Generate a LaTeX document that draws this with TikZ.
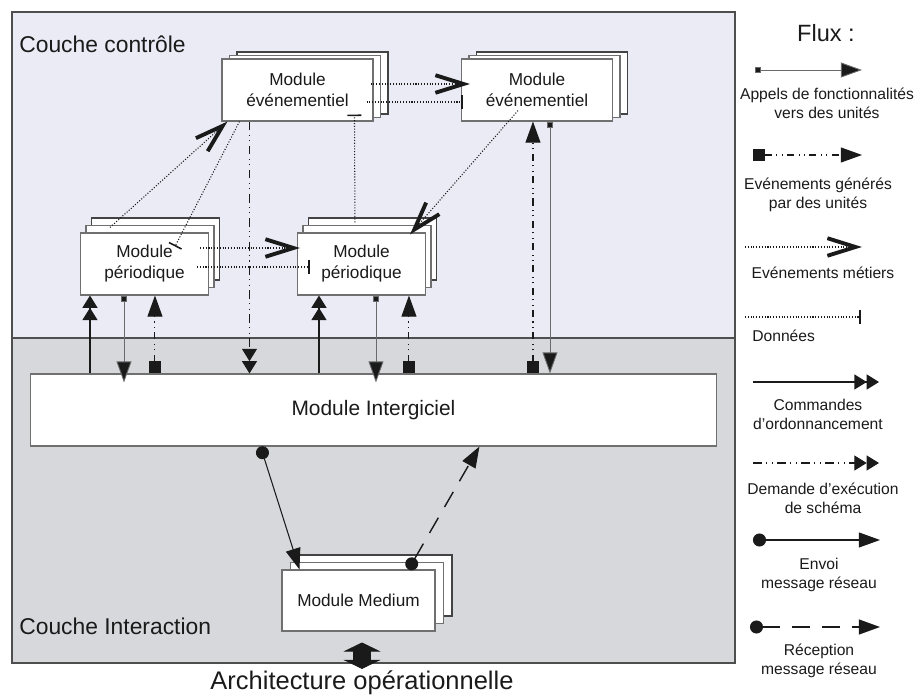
\documentclass[tikz,border=0pt]{standalone}
\usepackage{fontspec}
\setmainfont{Liberation Sans}
\usetikzlibrary{arrows.meta,shadows}
\usepackage{xcolor}
\definecolor{ctrlbg}{HTML}{EAEBF5}
\definecolor{interbg}{HTML}{D7D8DC}
\definecolor{boxgray}{HTML}{707070}
\definecolor{ink}{HTML}{1A1A1A}
\tikzset{
  layer/.style={draw=boxgray!70!black, line width=0.7pt},
  module/.style={draw=boxgray, fill=white, line width=0.6pt, align=center, inner sep=0pt, text=ink, font=\fontsize{9.8}{11.9}\selectfont},
  evtstack/.style={module, minimum width=3.02cm, minimum height=1.24cm,
    copy shadow={shadow xshift=0.3cm, shadow yshift=0.14cm, draw=boxgray!60!black, fill=white},
    copy shadow={shadow xshift=0.15cm, shadow yshift=0.07cm, draw=boxgray, fill=white}},
  perstack/.style={module, minimum width=2.56cm, minimum height=1.24cm,
    copy shadow={shadow xshift=0.22cm, shadow yshift=0.3cm, draw=boxgray!60!black, fill=white},
    copy shadow={shadow xshift=0.11cm, shadow yshift=0.15cm, draw=boxgray, fill=white}},
  medstack/.style={module, minimum width=3.06cm, minimum height=1.22cm,
    copy shadow={shadow xshift=0.34cm, shadow yshift=0.3cm, draw=boxgray!60!black, fill=white},
    copy shadow={shadow xshift=0.17cm, shadow yshift=0.15cm, draw=boxgray, fill=white}},
  legend/.style={align=center, text=ink, inner sep=0pt, font=\fontsize{8.9}{10.8}\selectfont},
  appel/.style={draw=ink!65, line width=0.5pt, {Square[length=3.4pt,width=3.4pt,fill=ink]}-{Triangle[length=12pt,width=8.5pt,fill=ink]}},
  genere/.style={draw=ink, line width=0.6pt, dash pattern=on 4pt off 2.5pt on 0.6pt off 2.5pt on 0.6pt off 2.5pt, {Square[length=7pt,width=7pt]}-{Triangle[length=12pt,width=8.5pt]}},
  metier/.style={draw=ink, line width=0.6pt, densely dotted, -{Straight Barb[length=16pt,width=10pt,line width=2.2pt]}},
  donnee/.style={draw=ink, line width=0.6pt, densely dotted, -{Bar[width=8pt,line width=0.9pt]}},
  commande/.style={draw=ink, line width=0.8pt, -{Triangle[length=7pt,width=8.5pt]Triangle[length=7pt,width=8.5pt]}},
  demande/.style={draw=ink, line width=0.6pt, dash pattern=on 5pt off 2.5pt on 0.6pt off 2.5pt on 0.6pt off 2.5pt, -{Triangle[length=7pt,width=8.5pt]Triangle[length=7pt,width=8.5pt]}},
  envoi/.style={draw=ink, line width=0.6pt, {Circle[length=7.4pt]}-{Triangle[length=12pt,width=8.5pt]}},
  reception/.style={draw=ink, line width=0.8pt, dash pattern=on 10pt off 7pt, {Circle[length=7.4pt]}-{Triangle[length=12pt,width=8.5pt]}},
  bigarrow/.style={draw=ink, line width=0.36cm, {Triangle[length=0.18cm,width=0.74cm,line width=0.3pt]}-{Triangle[length=0.18cm,width=0.74cm,line width=0.3pt]}}
}

\begin{document}
\begin{tikzpicture}[x=0.02cm, y=-0.02cm]
  \useasboundingbox (0,0) rectangle (914,695);
  % layers
  \fill[ctrlbg] (12,12) rectangle (735,338);
  \fill[interbg] (12,338) rectangle (735,663);
  \draw[layer] (12,12) rectangle (735,663);
  \draw[layer] (12,338) -- (735,338);
  \node[anchor=west, inner sep=0pt, text=ink, font=\fontsize{13}{15}\selectfont] (ctrl) at (19,44) {Couche contrôle};
  \node[anchor=west, inner sep=0pt, text=ink, font=\fontsize{13}{15}\selectfont] (inter) at (19,626) {Couche Interaction};

  % modules
  \node[evtstack] (evt1) at (297.5,90) {Module\\événementiel};
  \node[evtstack] (evt2) at (537,90) {Module\\événementiel};
  \node[perstack] (per1) at (144.5,264) {Module\\périodique};
  \node[perstack] (per2) at (361.5,264) {Module\\périodique};
  \node[module, minimum width=13.74cm, minimum height=1.44cm, font=\fontsize{11.9}{14}\selectfont] (mid) at (373.5,410) {Module Intergiciel};
  \node[medstack] (med) at (358.5,600.5) {Module Medium};
  \node[inner sep=0pt, anchor=base, text=ink, font=\fontsize{14.5}{17}\selectfont] (arch) at (362,690) {Architecture opérationnelle};

  % control layer flows
  \draw[metier] ([xshift=-0.06cm,yshift=0.12cm]evt1.east) -- ([xshift=0.18cm,yshift=0.12cm]evt2.west);
  \draw[donnee] ([xshift=-0.14cm,yshift=-0.24cm]evt1.east) -- ([xshift=0.04cm,yshift=-0.24cm]evt2.west);
  \draw[donnee] ([xshift=1.16cm,yshift=0.2cm]per2.north west) -- ([xshift=2.66cm,yshift=0.14cm]evt1.south west);
  \draw[metier] ([xshift=0.6cm,yshift=0.1cm]per1.north west) -- ([xshift=0.12cm]evt1.south west);
  \draw[donnee] ([xshift=0.36cm]evt1.south west) -- ([xshift=1.9cm,yshift=-0.28cm]per1.north west);
  \draw[metier] ([xshift=-0.18cm,yshift=0.32cm]per1.east) -- ([xshift=0.06cm,yshift=0.32cm]per2.west);
  \draw[donnee] ([xshift=-0.24cm,yshift=-0.06cm]per1.east) -- ([xshift=0.26cm,yshift=-0.06cm]per2.west);
  \draw[metier] ([xshift=1.14cm,yshift=0.22cm]evt2.south west) -- ([xshift=-0.32cm,yshift=-0.04cm]per2.north east);
  \draw[demande] ([xshift=0.56cm]evt1.south west) -- ([xshift=0.56cm]evt1.south west |- mid.north);

  % flows to the middleware
  \draw[commande] ([xshift=0.2cm]per1.south west |- mid.north) -- ([xshift=0.2cm]per1.south west);
  \draw[appel] ([xshift=0.88cm]per1.south west) -- ([xshift=0.88cm,yshift=-0.18cm]per1.south west |- mid.north);
  \draw[genere] ([xshift=1.5cm]per1.south west |- mid.north) -- ([xshift=1.5cm]per1.south west);
  \draw[commande] ([xshift=0.44cm]per2.south west |- mid.north) -- ([xshift=0.44cm]per2.south west);
  \draw[appel] ([xshift=1.58cm]per2.south west) -- ([xshift=1.58cm,yshift=-0.18cm]per2.south west |- mid.north);
  \draw[genere] ([xshift=2.24cm]per2.south west |- mid.north) -- ([xshift=2.24cm]per2.south west);
  \draw[genere] ([xshift=1.44cm]evt2.south west |- mid.north) -- ([xshift=1.44cm]evt2.south west);
  \draw[appel] ([xshift=1.78cm]evt2.south west) -- ([xshift=1.78cm]evt2.south west |- mid.north);

  % network
  \draw[envoi] ([xshift=4.62cm]mid.south west) -- ([xshift=0.36cm]med.north west);
  \draw[reception] ([xshift=2.54cm]med.north west) -- ([xshift=9.0cm]mid.south west);
  \draw[bigarrow] ([yshift=0.04cm]arch.north) -- ([yshift=-0.22cm]arch.north |- med.south);

  % legend
  \node[legend, font=\fontsize{13.4}{15}\selectfont] (flux) at (826,33) {Flux :};
  \coordinate (a1) at (755,70);  \coordinate (b1) at (862,70);
  \draw[appel] (a1) -- (b1);
  \node[legend] (l1) at (827,103) {Appels de fonctionnalités\\vers des unités};
  \coordinate (a2) at (753,155); \coordinate (b2) at (862,155);
  \draw[genere] (a2) -- (b2);
  \node[legend] (l2) at (818,195) {Evénements générés\\par des unités};
  \coordinate (a3) at (745,247); \coordinate (b3) at (862,247);
  \draw[metier] (a3) -- (b3);
  \node[legend] (l3) at (823,273) {Evénements métiers};
  \coordinate (a4) at (745,317); \coordinate (b4) at (861,317);
  \draw[donnee] (a4) -- (b4);
  \node[legend, anchor=west] (l4) at (752,336) {Données};
  \coordinate (a5) at (753,382); \coordinate (b5) at (879,382);
  \draw[commande] (a5) -- (b5);
  \node[legend] (l5) at (818,414) {Commandes\\d'ordonnancement};
  \coordinate (a6) at (753,463); \coordinate (b6) at (879,463);
  \draw[demande] (a6) -- (b6);
  \node[legend] (l6) at (823,498) {Demande d'exécution\\de schéma};
  \coordinate (a7) at (753,540); \coordinate (b7) at (880,540);
  \draw[envoi] (a7) -- (b7);
  \node[legend] (l7) at (819,575) {Envoi\\message réseau};
  \coordinate (a8) at (750,627); \coordinate (b8) at (880,627);
  \draw[reception] (a8) -- (b8);
  \node[legend] (l8) at (819,661) {Réception\\message réseau};
\end{tikzpicture}
\end{document}
